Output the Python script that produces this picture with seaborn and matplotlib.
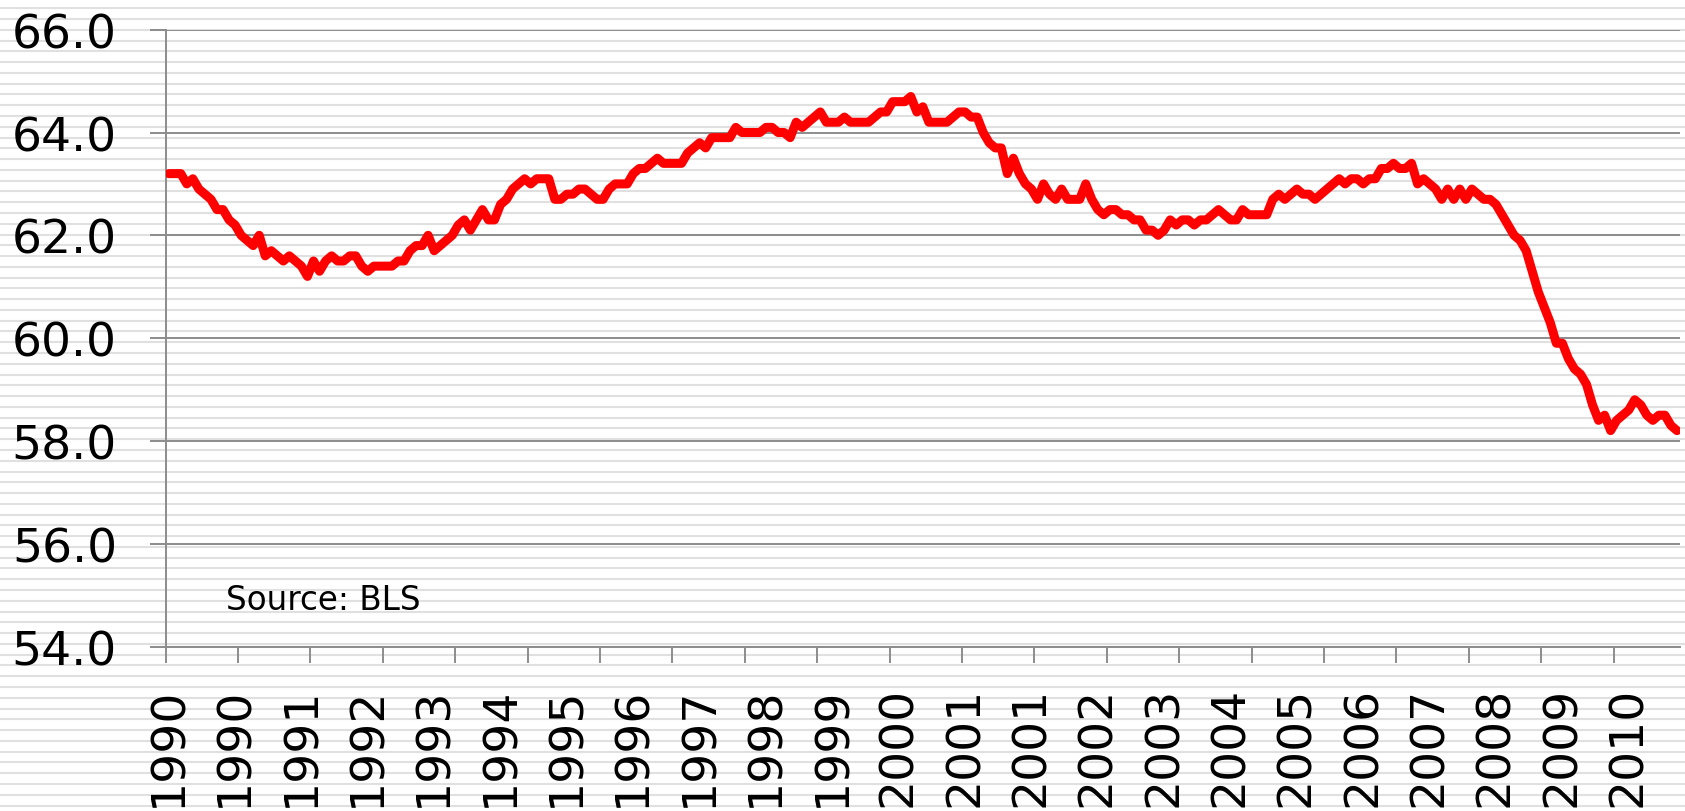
import numpy as np
import pandas as pd
import matplotlib
matplotlib.use("Agg")
import matplotlib.pyplot as plt
import seaborn as sns

# Employment-population ratio, monthly, Jan 1990 - Nov 2010
v1990 = [63.2, 63.2, 63.2, 63.0, 63.1, 62.9, 62.8, 62.7, 62.5, 62.5, 62.3, 62.2]
v1991 = [62.0, 61.9, 61.8, 62.0, 61.6, 61.7, 61.6, 61.5, 61.6, 61.5, 61.4, 61.2]
v1992 = [61.5, 61.3, 61.5, 61.6, 61.5, 61.5, 61.6, 61.6, 61.4, 61.3, 61.4, 61.4]
v1993 = [61.4, 61.4, 61.5, 61.5, 61.7, 61.8, 61.8, 62.0, 61.7, 61.8, 61.9, 62.0]
v1994 = [62.2, 62.3, 62.1, 62.3, 62.5, 62.3, 62.3, 62.6, 62.7, 62.9, 63.0, 63.1]
v1995 = [63.0, 63.1, 63.1, 63.1, 62.7, 62.7, 62.8, 62.8, 62.9, 62.9, 62.8, 62.7]
v1996 = [62.7, 62.9, 63.0, 63.0, 63.0, 63.2, 63.3, 63.3, 63.4, 63.5, 63.4, 63.4]
v1997 = [63.4, 63.4, 63.6, 63.7, 63.8, 63.7, 63.9, 63.9, 63.9, 63.9, 64.1, 64.0]
v1998 = [64.0, 64.0, 64.0, 64.1, 64.1, 64.0, 64.0, 63.9, 64.2, 64.1, 64.2, 64.3]
v1999 = [64.4, 64.2, 64.2, 64.2, 64.3, 64.2, 64.2, 64.2, 64.2, 64.3, 64.4, 64.4]
v2000 = [64.6, 64.6, 64.6, 64.7, 64.4, 64.5, 64.2, 64.2, 64.2, 64.2, 64.3, 64.4]
v2001 = [64.4, 64.3, 64.3, 64.0, 63.8, 63.7, 63.7, 63.2, 63.5, 63.2, 63.0, 62.9]
v2002 = [62.7, 63.0, 62.8, 62.7, 62.9, 62.7, 62.7, 62.7, 63.0, 62.7, 62.5, 62.4]
v2003 = [62.5, 62.5, 62.4, 62.4, 62.3, 62.3, 62.1, 62.1, 62.0, 62.1, 62.3, 62.2]
v2004 = [62.3, 62.3, 62.2, 62.3, 62.3, 62.4, 62.5, 62.4, 62.3, 62.3, 62.5, 62.4]
v2005 = [62.4, 62.4, 62.4, 62.7, 62.8, 62.7, 62.8, 62.9, 62.8, 62.8, 62.7, 62.8]
v2006 = [62.9, 63.0, 63.1, 63.0, 63.1, 63.1, 63.0, 63.1, 63.1, 63.3, 63.3, 63.4]
v2007 = [63.3, 63.3, 63.4, 63.0, 63.1, 63.0, 62.9, 62.7, 62.9, 62.7, 62.9, 62.7]
v2008 = [62.9, 62.8, 62.7, 62.7, 62.6, 62.4, 62.2, 62.0, 61.9, 61.7, 61.3, 60.9]
v2009 = [60.6, 60.3, 59.9, 59.9, 59.6, 59.4, 59.3, 59.1, 58.7, 58.4, 58.5, 58.2]
v2010 = [58.4, 58.5, 58.6, 58.8, 58.7, 58.5, 58.4, 58.5, 58.5, 58.3, 58.2]

values = (v1990 + v1991 + v1992 + v1993 + v1994 + v1995 + v1996 + v1997 + v1998
          + v1999 + v2000 + v2001 + v2002 + v2003 + v2004 + v2005 + v2006
          + v2007 + v2008 + v2009 + v2010)

label_years = ["1990", "1990", "1991", "1992", "1993", "1994", "1995", "1996",
               "1997", "1998", "1999", "2000", "2001", "2001", "2002", "2003",
               "2004", "2005", "2006", "2007", "2008", "2009", "2010"]
y_ticks = [54, 56, 58, 60, 62, 64, 66]
source_text = "Source: BLS"

n = len(values)
df = pd.DataFrame({"month": np.arange(n), "ratio": values})

sns.set_theme(style="white")
plt.rcParams["font.family"] = ["DejaVu Sans"]

W, H = 1685, 812
fig = plt.figure(figsize=(W / 100, H / 100), dpi=100)
fig.patch.set_facecolor("white")

# striped background of the chart area
bg = fig.add_axes([0, 0, 1, 1], zorder=-5)
bg.set_xlim(0, 1)
bg.set_ylim(H, 0)
bg.axis("off")
for yy in np.arange(9.3, H, 10.773):
    bg.axhline(yy, color="#e0e0e0", lw=1.5)

ax = fig.add_axes([165.7 / W, 1 - 647.5 / H, (1680 - 165.7) / W, (647.5 - 30.7) / H])
ax.set_facecolor("none")

sns.lineplot(data=df, x="month", y="ratio", ax=ax, color="#ff0000", lw=6.5,
             solid_joinstyle="round", solid_capstyle="round", zorder=5)

ax.set_xlim(-0.5, n - 0.5)
ax.set_ylim(54, 66)
ax.set_xlabel("")
ax.set_ylabel("")

grid_c = "#8c8c8c"
ax.set_yticks(y_ticks)
ax.yaxis.set_major_formatter(matplotlib.ticker.StrMethodFormatter("{x:.1f}"))
ax.yaxis.grid(True, color=grid_c, lw=1.4)
ax.xaxis.grid(False)
ax.set_axisbelow(True)

ax.set_xticks(np.arange(-0.5, n, 12))
ax.set_xticklabels([])
label_pos = np.arange(0, n, 11)[:len(label_years)]
ax.set_xticks(label_pos, minor=True)
ax.set_xticklabels(label_years, minor=True, rotation=90, fontsize=34)

ax.tick_params(axis="x", which="major", length=11.3, width=1.4, color=grid_c,
               direction="out", bottom=True)
ax.tick_params(axis="x", which="minor", length=0, pad=28, bottom=True, colors="black")
ax.tick_params(axis="y", which="major", length=11.3, width=1.4, color=grid_c,
               direction="out", left=True, pad=23.8, labelsize=34, labelcolor="black")

for s in ["top", "right"]:
    ax.spines[s].set_visible(False)
for s in ["left", "bottom"]:
    ax.spines[s].set_color(grid_c)
    ax.spines[s].set_linewidth(1.4)

fig.text(226 / W, 1 - 610 / H, source_text, fontsize=23.5, va="baseline", color="black")

fig.savefig("out.png", dpi=100)
